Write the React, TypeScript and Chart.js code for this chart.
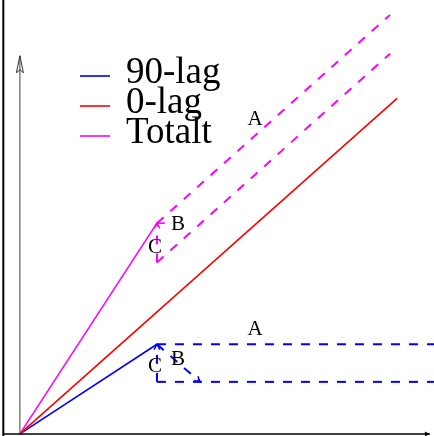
import { useEffect, useRef } from "react";
import { Chart, registerables } from "chart.js";

Chart.register(...registerables);

type Pt = [number, number];

const BLUE = "#0000ff";
const RED = "#ff0000";
const MAGENTA = "#ff00ff";
const GREY = "#808080";
const BLACK = "#000000";

// Load paths, strain (x) against force (y)
const zeroLag: Pt[] = [[0, 0], [9.11, 8.12]];
const ninetyLag: Pt[] = [[0, 0], [3.31, 2.17]];
const ninetyLagA: Pt[] = [[3.31, 2.17], [10.0, 2.17]];
const ninetyLagAfter: Pt[] = [[3.31, 1.26], [10.0, 1.26]];
const ninetyLagB: Pt[] = [[3.31, 2.17], [4.35, 1.26]];
const ninetyLagC: Pt[] = [[3.31, 1.26], [3.31, 2.17]];
const total: Pt[] = [[0, 0], [3.31, 5.1]];
const totalA: Pt[] = [[3.31, 5.1], [8.94, 10.14]];
const totalAfter: Pt[] = [[3.31, 4.15], [8.94, 9.2]];
const totalB: Pt[] = [[3.31, 5.1], [3.5, 5.1]];
const totalC: Pt[] = [[3.31, 4.15], [3.31, 5.1]];

// Axes and frame
const yAxisLine: Pt[] = [[0, 0], [0, 9.15]];
const xAxisLine: Pt[] = [[-0.4, 0], [9.9, 0]];
const frameLine: Pt[] = [[-0.4, -0.05], [-0.4, 10.5]];

const legendLabels = ["90-lag", "0-lag", "Totalt"];
const legendColors = [BLUE, RED, MAGENTA];

const markLabels = ["A", "B", "C", "A", "B", "C"];
const markLabelPos: Pt[] = [
  [5.68, 7.6],
  [3.82, 5.06],
  [3.26, 4.52],
  [5.68, 2.52],
  [3.82, 1.81],
  [3.26, 1.62],
];

const toXY = (pts: Pt[]) => pts.map(([x, y]) => ({ x, y }));

type Arrow = "open" | "closed" | "small";

const line = (
  pts: Pt[],
  color: string,
  opts: { dashed?: boolean; width?: number; arrow?: Arrow } = {}
) => ({
  data: toXY(pts),
  borderColor: color,
  backgroundColor: color,
  borderWidth: opts.width ?? (opts.dashed ? 2 : 1.6),
  borderDash: opts.dashed ? [9, 9] : [],
  pointRadius: 0,
  pointHoverRadius: 0,
  showLine: true,
  fill: false,
  tension: 0,
  arrow: opts.arrow,
});

const arrowPlugin = {
  id: "arrowHeads",
  afterDatasetsDraw(chart: any) {
    const ctx = chart.ctx;
    chart.data.datasets.forEach((ds: any, i: number) => {
      if (!ds.arrow) return;
      const pts = chart.getDatasetMeta(i).data;
      if (pts.length < 2) return;
      const a = pts[pts.length - 2];
      const b = pts[pts.length - 1];
      const ang = Math.atan2(b.y - a.y, b.x - a.x);
      ctx.save();
      ctx.setLineDash([]);
      ctx.strokeStyle = ds.borderColor;
      ctx.fillStyle = ds.borderColor;
      ctx.lineWidth = 1;
      if (ds.arrow === "closed") {
        const len = 17;
        const half = 3.5;
        ctx.strokeStyle = "#333333";
        ctx.beginPath();
        ctx.moveTo(b.x, b.y);
        ctx.lineTo(
          b.x - len * Math.cos(ang) + half * Math.sin(ang),
          b.y - len * Math.sin(ang) - half * Math.cos(ang)
        );
        ctx.lineTo(b.x - (len - 3) * Math.cos(ang), b.y - (len - 3) * Math.sin(ang));
        ctx.lineTo(
          b.x - len * Math.cos(ang) - half * Math.sin(ang),
          b.y - len * Math.sin(ang) + half * Math.cos(ang)
        );
        ctx.closePath();
        ctx.stroke();
      } else if (ds.arrow === "small") {
        const len = 5;
        const half = 2.5;
        ctx.beginPath();
        ctx.moveTo(b.x, b.y);
        ctx.lineTo(
          b.x - len * Math.cos(ang) + half * Math.sin(ang),
          b.y - len * Math.sin(ang) - half * Math.cos(ang)
        );
        ctx.lineTo(
          b.x - len * Math.cos(ang) - half * Math.sin(ang),
          b.y - len * Math.sin(ang) + half * Math.cos(ang)
        );
        ctx.closePath();
        ctx.fill();
      } else {
        const len = 6;
        const spread = 0.5;
        ctx.lineWidth = 1.5;
        ctx.beginPath();
        ctx.moveTo(b.x - len * Math.cos(ang - spread), b.y - len * Math.sin(ang - spread));
        ctx.lineTo(b.x, b.y);
        ctx.lineTo(b.x - len * Math.cos(ang + spread), b.y - len * Math.sin(ang + spread));
        ctx.stroke();
      }
      ctx.restore();
    });
  },
};

const labelPlugin = {
  id: "diagramText",
  afterDraw(chart: any) {
    const ctx = chart.ctx;
    const xs = chart.scales.x;
    const ys = chart.scales.y;
    const area = chart.chartArea;
    ctx.save();
    // point markers A, B, C
    ctx.fillStyle = BLACK;
    ctx.font = '21px "Liberation Serif", "Times New Roman", serif';
    ctx.textAlign = "center";
    ctx.textBaseline = "middle";
    markLabels.forEach((t, i) => {
      const [x, y] = markLabelPos[i];
      ctx.fillText(t, xs.getPixelForValue(x), ys.getPixelForValue(y));
    });
    // legend
    ctx.font = '37px "Liberation Serif", "Times New Roman", serif';
    ctx.textAlign = "left";
    ctx.textBaseline = "alphabetic";
    legendLabels.forEach((t, i) => {
      const base = area.top + 83 + i * 30;
      ctx.strokeStyle = legendColors[i];
      ctx.lineWidth = 1.6;
      ctx.beginPath();
      ctx.moveTo(area.left + 80, base - 7);
      ctx.lineTo(area.left + 110, base - 7);
      ctx.stroke();
      ctx.fillStyle = BLACK;
      ctx.fillText(t, area.left + 126, base);
    });
    ctx.restore();
  },
};

export default function App() {
  const ref = useRef<HTMLCanvasElement>(null);

  useEffect(() => {
    if (!ref.current) return;
    const chart = new Chart(ref.current, {
      type: "line",
      data: {
        datasets: [
          line(frameLine, BLACK, { width: 2 }),
          line(xAxisLine, BLACK, { width: 1.5, arrow: "small" }),
          line(yAxisLine, GREY, { width: 1.5, arrow: "closed" }),
          line(zeroLag, RED),
          line(total, MAGENTA),
          line(totalA, MAGENTA, { dashed: true }),
          line(totalAfter, MAGENTA, { dashed: true }),
          line(totalB, MAGENTA),
          line(totalC, MAGENTA, { dashed: true, arrow: "open" }),
          line(ninetyLag, BLUE),
          line(ninetyLagA, BLUE, { dashed: true }),
          line(ninetyLagAfter, BLUE, { dashed: true }),
          line(ninetyLagB, BLUE, { dashed: true, arrow: "open" }),
          line(ninetyLagC, BLUE, { dashed: true, arrow: "open" }),
        ] as any,
      },
      options: {
        animation: false,
        responsive: false,
        events: [],
        layout: { padding: 0 },
        scales: {
          x: { type: "linear", min: -0.48, max: 10, display: false },
          y: { type: "linear", min: -0.05, max: 10.5, display: false },
        },
        plugins: {
          legend: { display: false },
          tooltip: { enabled: false },
        },
      },
      plugins: [arrowPlugin, labelPlugin],
    });
    return () => chart.destroy();
  }, []);

  return (
    <div style={{ position: "fixed", left: 0, top: 0, width: 434, height: 436, background: "#fff" }}>
      <canvas ref={ref} width={434} height={436} style={{ display: "block" }} />
    </div>
  );
}
